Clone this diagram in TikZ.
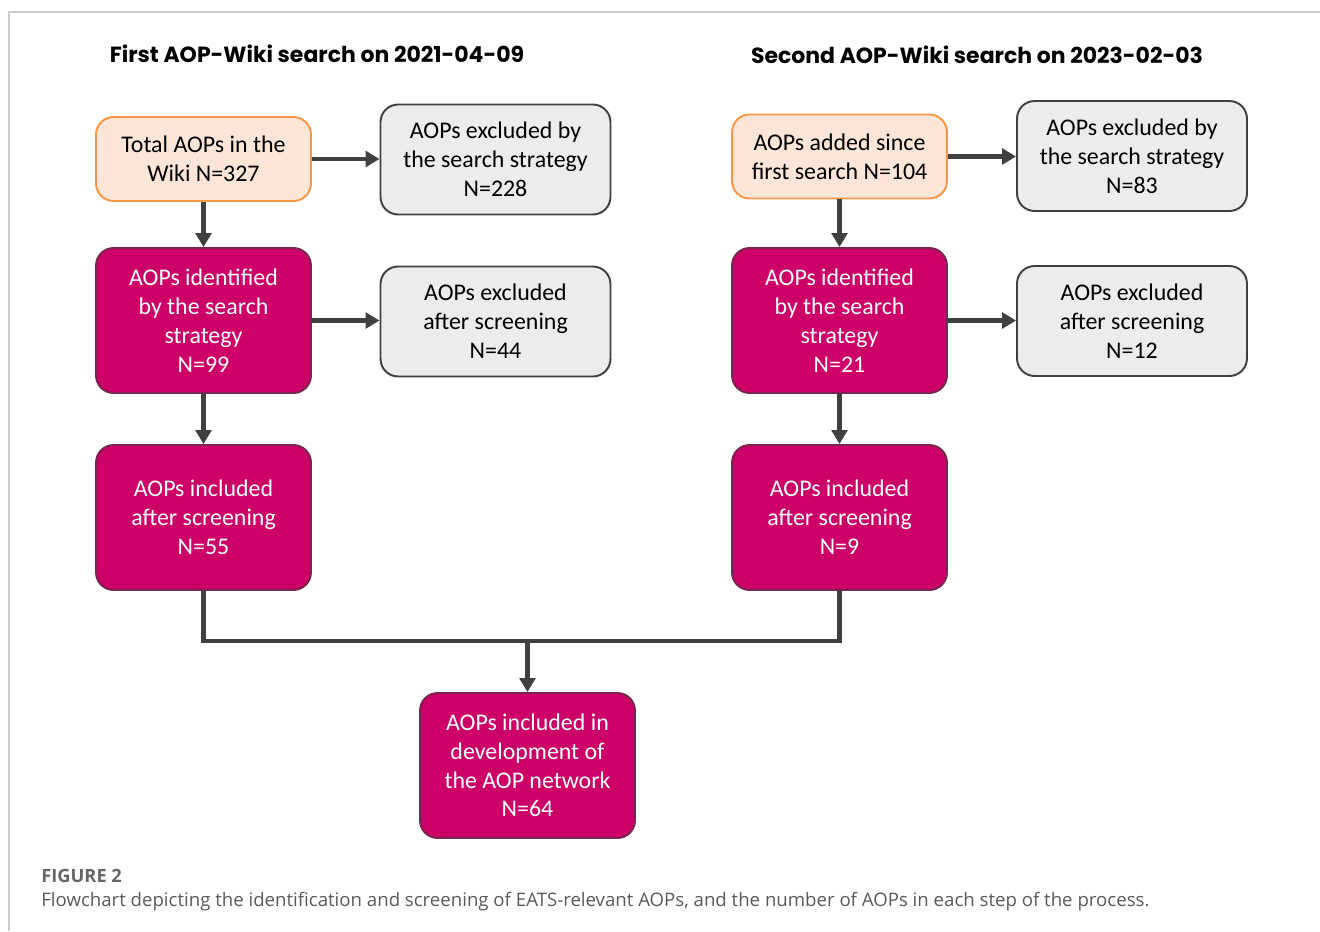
\documentclass[tikz,border=0pt]{standalone}
\usepackage{fontspec}
\setmainfont{Carlito}
\newfontfamily\titlefont{Poppins}
\newfontfamily\capfont{Open Sans}
\usepackage{tikz}
\usetikzlibrary{positioning,arrows.meta}
\definecolor{aopmag}{HTML}{CC0066}
\definecolor{aoporange}{HTML}{F79646}
\definecolor{aoppeach}{HTML}{FDE6D8}
\definecolor{aopgrey}{HTML}{ECECEC}
\definecolor{aopline}{HTML}{404040}
\tikzset{
  box/.style={rounded corners=10pt, line width=1.1pt, align=center, inner sep=2pt,
    font=\fontsize{13.6}{16.4}\selectfont},
  startbox/.style={box, draw=aoporange, fill=aoppeach, text=black,
    minimum width=4.3cm, minimum height=1.68cm},
  outbox/.style={box, draw=aopline, fill=aopgrey, text=black,
    minimum width=4.6cm, minimum height=2.2cm},
  keepbox/.style={box, draw=aopline!60!aopmag, fill=aopmag, text=white,
    minimum width=4.3cm, minimum height=2.9cm},
  flow/.style={line width=2.3pt, draw=aopline, -{Triangle[length=8pt,width=9pt]}},
}
\begin{document}
\begin{tikzpicture}[x=0.02cm,y=-0.02cm]
            \useasboundingbox (0,0) rectangle (1320,931);
            \draw[line width=0.8pt, black!20] (9,931) -- (9,12) -- (1320,12);
            % search titles
            \node[font=\titlefont\bfseries\fontsize{12.5}{14}\selectfont] (title1) at (317,54) {First AOP-Wiki search on 2021-04-09};
            \node[font=\titlefont\bfseries\fontsize{12.5}{14}\selectfont] (title2) at (977,55) {Second AOP-Wiki search on 2023-02-03};
            % first search
            \node[startbox] (tot1) at (203.5,159) {Total AOPs in the\\Wiki N=327};
            \node[outbox] (exs1) at (495.5,159.5) {AOPs excluded by\\the search strategy\\N=228};
            \node[keepbox] (id1) at (203.5,320.5) {AOPs identified\\by the search\\strategy\\N=99};
            \node[outbox] (exsc1) at (495.5,321.5) {AOPs excluded\\after screening\\N=44};
            \node[keepbox] (inc1) at (203.5,517.5) {AOPs included\\after screening\\N=55};
            % second search
            \node[startbox] (add2) at (839.5,156.5) {AOPs added since\\first search N=104};
            \node[outbox] (exs2) at (1132,156) {AOPs excluded by\\the search strategy\\N=83};
            \node[keepbox] (id2) at (839.5,320.5) {AOPs identified\\by the search\\strategy\\N=21};
            \node[outbox] (exsc2) at (1132,321) {AOPs excluded\\after screening\\N=12};
            \node[keepbox] (inc2) at (839.5,517.5) {AOPs included\\after screening\\N=9};
            % merged result
            \node[keepbox] (net) at (527.5,765.5) {AOPs included in\\development of\\the AOP network\\N=64};
            \coordinate (join) at (527.5,641);
            \draw[flow] (tot1) -- (exs1.west |- tot1);
            \draw[flow] (tot1) -- (id1);
            \draw[flow] (id1) -- (exsc1.west |- id1);
            \draw[flow] (id1) -- (inc1);
            \draw[flow] (add2) -- (exs2.west |- add2);
            \draw[flow] (add2) -- (id2);
            \draw[flow] (id2) -- (exsc2.west |- id2);
            \draw[flow] (id2) -- (inc2);
            \draw[line width=2.3pt, aopline] (inc1.south) |- (join) -| (inc2.south);
            \draw[flow] (join) -- (net);
            % caption
            \node[anchor=base west, inner sep=0pt, text=black!60, font=\capfont\bfseries\fontsize{10.4}{13}\selectfont] (fig) at (41,882) {FIGURE 2};
            \node[anchor=base west, inner sep=0pt, text=black!65, font=\capfont\fontsize{10.6}{13}\selectfont] (cap) at (41,906) {Flowchart depicting the identification and screening of EATS-relevant AOPs, and the number of AOPs in each step of the process.};
        \end{tikzpicture}
\end{document}
